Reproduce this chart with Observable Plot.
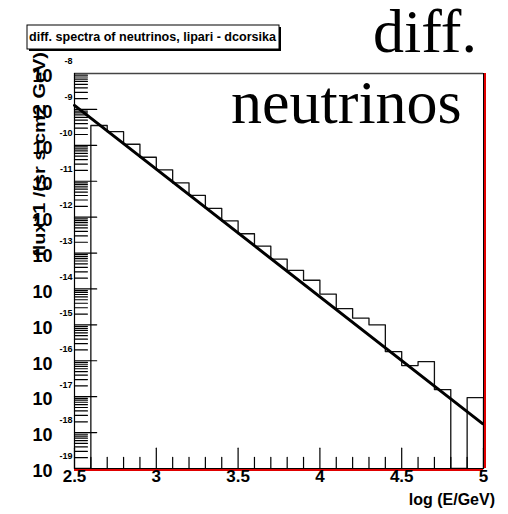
<!DOCTYPE html>
<html><head><meta charset="utf-8">
<script src="https://cdn.jsdelivr.net/npm/d3@7"></script>
<script src="https://cdn.jsdelivr.net/npm/@observablehq/plot@0.6"></script>
<style>
html,body{margin:0;padding:0;background:#fff;}
#wrap{position:relative;width:508px;height:514px;overflow:hidden;background:#fff;}
#wrap > svg{position:absolute;left:0;top:0;}
</style></head><body><div id="wrap"></div>
<script>
// ---- data ----
const binEdges = [2.5,2.6,2.7,2.8,2.9,3.0,3.1,3.2,3.3,3.4,3.5,3.6,3.7,3.8,3.9,4.0,4.1,4.2,4.3,4.4,4.5,4.6,4.7,4.8,4.9,5.0];
const binFlux = [0, 3.56e-10, 2.40e-10, 1.07e-10, 4.65e-11, 2.08e-11, 9.0e-12, 4.05e-12, 1.76e-12, 7.9e-13,
  3.45e-13, 1.55e-13, 6.8e-14, 3.30e-14, 1.75e-14, 7.2e-15, 2.84e-15, 1.55e-15, 1.00e-15, 1.80e-16,
  7.35e-17, 9.50e-17, 1.58e-17, 0, 9.44e-18];
const fitLogE = [2.5, 4.994];
const fitFlux = [1.29e-9, 1.78e-18];
const yDecades = [-19,-18,-17,-16,-15,-14,-13,-12,-11,-10,-9,-8];
const xMajorTicks = [2.5, 3, 3.5, 4, 4.5, 5];
const xTickLabels = ["2.5", "3", "3.5", "4", "4.5", "5"];
const xMinorTicks = [2.6,2.7,2.8,2.9,3.1,3.2,3.3,3.4,3.6,3.7,3.8,3.9,4.1,4.2,4.3,4.4,4.6,4.7,4.8,4.9];

// ---- derived tables ----
const yMin = 10 ** yDecades[0], yMax = 10 ** yDecades[yDecades.length - 1];
const outline = [{x: binEdges[0], y: yMin}];
binFlux.forEach((v, i) => {
  const yy = v > 0 ? v : yMin;
  outline.push({x: binEdges[i], y: yy});
  outline.push({x: binEdges[i + 1], y: yy});
});
outline.push({x: binEdges[binEdges.length - 1], y: yMin});
const fit = fitLogE.map((x, i) => ({x, y: fitFlux[i]}));
const yMajor = yDecades.map(d => 10 ** d);
const yMinor = [];
yDecades.slice(0, -1).forEach(d => { for (let k = 2; k <= 9; k++) yMinor.push(k * 10 ** d); });
const xLab = xMajorTicks.map((v, i) => ({v, t: xTickLabels[i]}));
const yLab = yDecades.map(d => ({v: 10 ** d, e: String(d)}));

const W = 508, H = 514, mL = 74, mR = 25, mT = 73, mB = 46;
const font = "'Liberation Sans', Arial, sans-serif";
// tick segments as tables (value + pixel length as style)
const xTickSegs = [...xMinorTicks.map(v => ({v, len: 6})), ...xMajorTicks.map(v => ({v, len: 11}))];
const yTickSegs = [...yMinor.map(v => ({v, len: 7})), ...yMajor.map(v => ({v, len: 12}))];
const chart = Plot.plot({
  width: W, height: H,
  marginLeft: mL, marginRight: mR, marginTop: mT, marginBottom: mB,
  style: {background: "transparent", fontFamily: font, color: "#000", overflow: "visible"},
  x: {domain: [2.5, 5], label: null, axis: null},
  y: {type: "log", domain: [yMin, yMax], label: null, axis: null},
  marks: [
    Plot.line(outline, {x: "x", y: "y", stroke: "#111", strokeWidth: 1.3}),
    Plot.line(fit, {x: "x", y: "y", stroke: "#000", strokeWidth: 3}),
    // inward ticks drawn as short vectors from the frame edges
    Plot.vector(xTickSegs, {x: "v", frameAnchor: "bottom", length: "len", rotate: 0, anchor: "start", stroke: "#000", strokeWidth: 1.2, shape: {draw(ctx, l) { ctx.moveTo(0, 0); ctx.lineTo(0, -l); }}}),
    Plot.vector(yTickSegs, {y: "v", frameAnchor: "left", length: "len", rotate: 0, anchor: "start", stroke: "#000", strokeWidth: 1.2, shape: {draw(ctx, l) { ctx.moveTo(0, 0); ctx.lineTo(l, 0); }}}),
    Plot.ruleY([yMax], {stroke: "#444", strokeWidth: 1.5}),
    Plot.ruleX([2.5], {stroke: "#000", strokeWidth: 1.2}),
    Plot.ruleX([5], {stroke: "#000", strokeWidth: 1}),
    Plot.ruleX([5], {stroke: "#e00000", strokeWidth: 2, dx: 1.5}),
    Plot.ruleY([yMin], {stroke: "#000", strokeWidth: 1}),
    Plot.ruleY([yMin], {stroke: "#e00000", strokeWidth: 2, dy: 1.5}),
    Plot.text(xLab, {x: "v", text: "t", frameAnchor: "bottom", dy: 13, fontSize: 17, fontWeight: "bold", fill: "#000"}),
    Plot.text(yLab, {y: "v", text: () => "10", frameAnchor: "left", textAnchor: "end", dx: -22, dy: 3, fontSize: 18, fontWeight: "bold", fill: "#000"}),
    Plot.text(yLab, {y: "v", text: "e", frameAnchor: "left", textAnchor: "end", dx: -2, dy: -12, fontSize: 9, fontWeight: "bold", fill: "#000"})
  ]
});
const wrap = document.getElementById("wrap");
wrap.appendChild(chart);

const overlay = `
<svg width="508" height="514" xmlns="http://www.w3.org/2000/svg" style="font-family:${font.replace(/'/g, '&quot;')}">
  <rect x="29" y="27" width="252" height="24" fill="#000"/>
  <rect x="27" y="25" width="252" height="24" fill="#fff" stroke="#000" stroke-width="1"/>
  <text x="29" y="41" font-size="12" font-weight="bold" textLength="247" lengthAdjust="spacingAndGlyphs">diff. spectra of neutrinos, lipari - dcorsika</text>
  <text transform="translate(45,257) rotate(-90)" font-size="17" font-weight="bold" textLength="205" lengthAdjust="spacingAndGlyphs">flux*1 /(sr s cm2 GeV)</text>
  <text x="495" y="505" text-anchor="end" font-size="16" font-weight="bold">log (E/GeV)</text>
  <text x="373" y="52" font-family="'Liberation Serif', 'Times New Roman', serif" font-size="62">diff.</text>
  <text x="231" y="123" font-family="'Liberation Serif', 'Times New Roman', serif" font-size="62">neutrinos</text>
</svg>`;
wrap.insertAdjacentHTML("beforeend", overlay);
</script></body></html>
